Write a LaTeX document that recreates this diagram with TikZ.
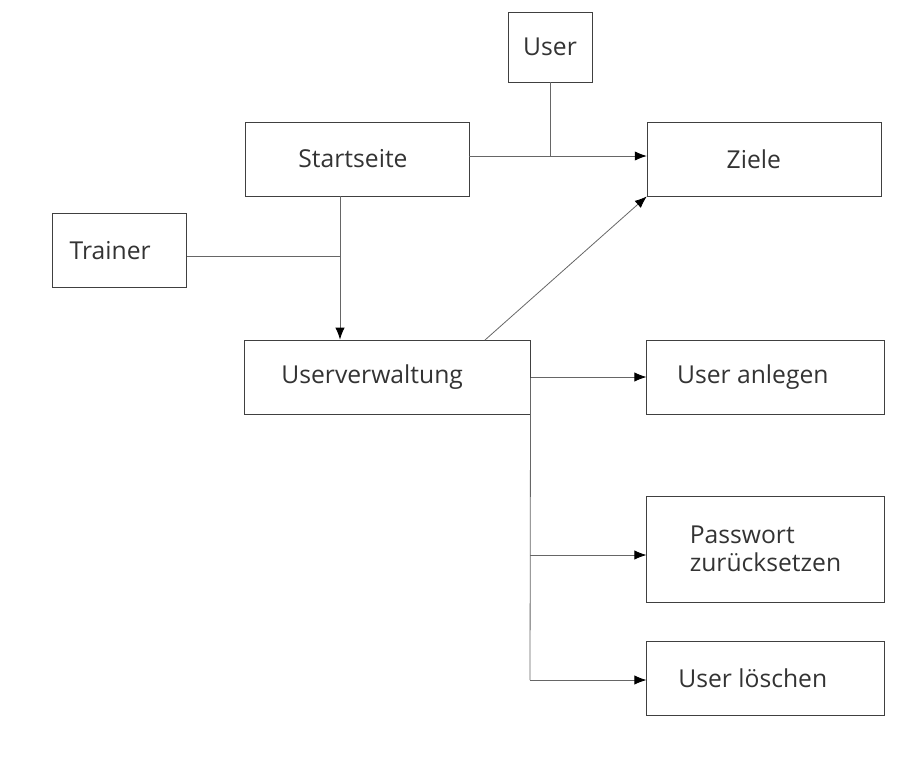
\documentclass[tikz,border=0pt]{standalone}
\usepackage{fontspec}
\setmainfont{Open Sans}
\usetikzlibrary{arrows.meta, positioning, calc}

\begin{document}
\begin{tikzpicture}[>={Latex[length=9pt,width=7pt,black]}, x=0.75pt, y=-0.75pt, font=\fontsize{18.5}{21}\selectfont]
  \tikzstyle{box}=[draw=black!75, line width=0.6pt, text=black!80, align=left, inner sep=0pt]
  \tikzstyle{conn}=[draw=black!60, line width=0.6pt]
  \useasboundingbox (0,0) rectangle (921,782);

  % Boxes
  \node[box, minimum width=63pt, minimum height=52.5pt] (user) at (550,47) {User};
  \node[box, minimum width=168pt, minimum height=55.5pt] (start) at (357,159) {Startseite\hspace{6pt}};
  \node[box, minimum width=176pt, minimum height=55.5pt] (ziele) at (764.5,159) {Ziele\hspace{16pt}};
  \node[box, minimum width=101pt, minimum height=56pt] (trainer) at (119.5,250.5) {Trainer\hspace{14pt}};
  \node[box, minimum width=214pt, minimum height=55.5pt] (verw) at (387.5,377) {Userverwaltung\hspace{23pt}};
  \node[box, minimum width=178pt, minimum height=55.5pt] (anlegen) at (765.5,377) {User anlegen\hspace{19pt}};
  \node[box, minimum width=178pt, minimum height=79.5pt] (passwort) at (765.5,549) {Passwort\\zurücksetzen\hspace{16pt}};
  \node[box, minimum width=178pt, minimum height=55.5pt] (loeschen) at (765.5,678) {User löschen\hspace{19pt}};

  % Junctions
  \coordinate (j1) at (340,256);
  \coordinate (j2) at (485,340);
  \coordinate (j3) at (530,555);
  \coordinate (j4) at (530,680);

  % Connectors
  \draw[conn, ->] (start.east |- 0,156) -- (ziele.west |- 0,156);
  \draw[conn] (user.south) -- (user.south |- 0,156);
  \draw[conn, ->] (start.south -| j1) -- (verw.north -| j1);
  \draw[conn] (trainer.east |- j1) -- (j1);
  \draw[conn, ->] (j2) -- (ziele.south west);
  \draw[conn, ->] (verw.east) -- (anlegen.west);
  \draw[conn] (verw.east |- 0,378) -- (j4);
  \draw[conn, ->] (j3) -- (passwort.west |- j3);
  \draw[conn, ->] (j4) -- (loeschen.west |- j4);
\end{tikzpicture}
\end{document}
